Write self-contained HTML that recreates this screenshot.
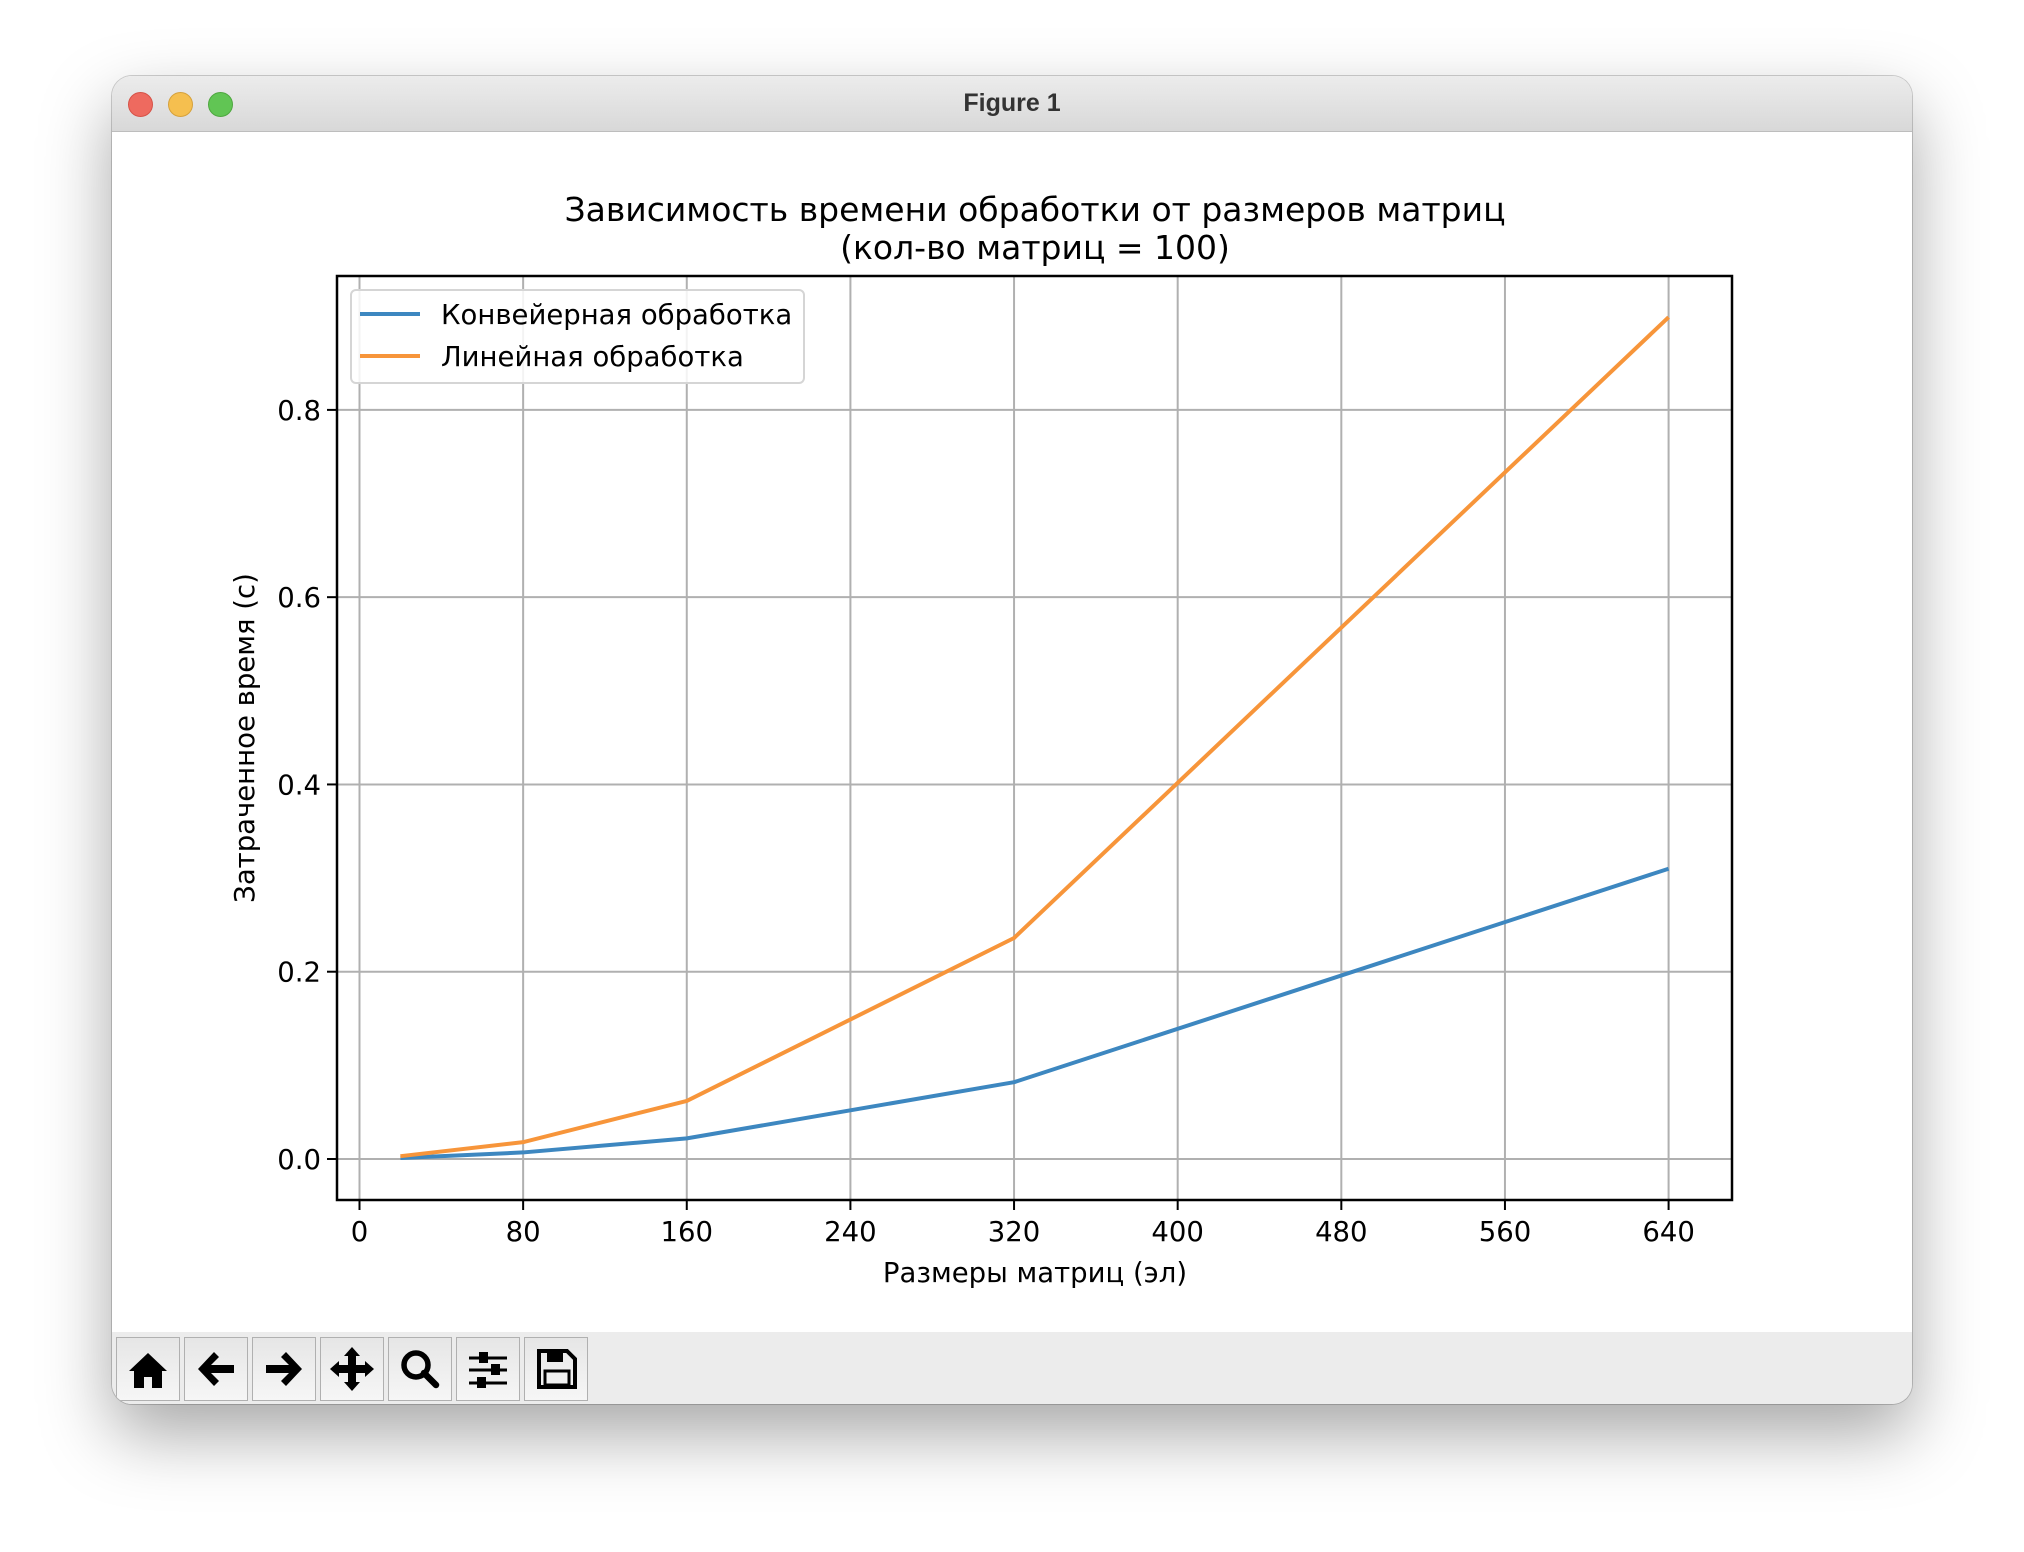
<!DOCTYPE html>
<html><head><meta charset="utf-8"><style>
html,body{margin:0;padding:0;background:#fff;width:2024px;height:1552px;overflow:hidden;}
#win{position:absolute;left:112px;top:76px;width:1800px;height:1328px;border-radius:20px;background:#fff;overflow:hidden;box-shadow:0 30px 70px rgba(0,0,0,0.35),0 0 0 1px rgba(0,0,0,0.18);}
#titlebar{position:absolute;left:0;top:0;width:100%;height:55px;background:linear-gradient(#ececec,#d8d8d8);border-bottom:1px solid #bdbdbd;}
.light{position:absolute;top:16px;width:23px;height:23px;border-radius:50%;}
#ttl{position:absolute;left:0;width:100%;top:13px;text-align:center;font:bold 25px "Liberation Sans",sans-serif;color:#333;}
#toolbar{position:absolute;left:0;top:1256px;width:100%;height:72px;background:#ececec;}
.btn{position:absolute;top:5px;width:62px;height:62px;border:1px solid #b0b0b0;background:linear-gradient(#e6e6e6,#f6f6f6);}
svg text{font-family:"DejaVu Sans","Liberation Sans",sans-serif;}
</style></head><body>
<div id="win">
 <div id="titlebar">
  <div class="light" style="left:16px;background:#ee6a5f;border:1px solid #d65247"></div>
  <div class="light" style="left:56px;background:#f5bf4f;border:1px solid #d6a13b"></div>
  <div class="light" style="left:96px;background:#61c554;border:1px solid #4ea73f"></div>
  <div id="ttl">Figure 1</div>
 </div>
 <div id="toolbar">
  <div class="btn" style="left:4px"><svg width="62" height="62"><path d="M12 33 L31 15 L50 33 L45 33 L45 50 L35 50 L35 39 L27 39 L27 50 L17 50 L17 33Z" fill="#000"/></svg></div>
  <div class="btn" style="left:72px"><svg width="62" height="62"><path d="M13 31 L29 14 L34 19 L26 27 L49 27 L49 35 L26 35 L34 43 L29 48Z" fill="#000"/></svg></div>
  <div class="btn" style="left:140px"><svg width="62" height="62"><path d="M49 31 L33 14 L28 19 L36 27 L13 27 L13 35 L36 35 L28 43 L33 48Z" fill="#000"/></svg></div>
  <div class="btn" style="left:208px"><svg width="62" height="62"><path d="M31 9 L39 18 L35 18 L35 27 L44 27 L44 23 L53 31 L44 39 L44 35 L35 35 L35 44 L39 44 L31 53 L23 44 L27 44 L27 35 L18 35 L18 39 L9 31 L18 23 L18 27 L27 27 L27 18 L23 18Z" fill="#000"/></svg></div>
  <div class="btn" style="left:276px"><svg width="62" height="62"><circle cx="27" cy="27" r="12" fill="none" stroke="#000" stroke-width="5.5"/><line x1="35" y1="35" x2="47" y2="47" stroke="#000" stroke-width="6.5" stroke-linecap="round"/></svg></div>
  <div class="btn" style="left:344px"><svg width="62" height="62"><g stroke="#000" stroke-width="3"><line x1="12" y1="20" x2="50" y2="20"/><line x1="12" y1="32" x2="50" y2="32"/><line x1="12" y1="45" x2="50" y2="45"/></g><rect x="22" y="14" width="9" height="11" fill="#000"/><rect x="34" y="26" width="9" height="11" fill="#000"/><rect x="20" y="39" width="9" height="11" fill="#000"/></svg></div>
  <div class="btn" style="left:412px"><svg width="62" height="62"><path d="M14 13 L42 13 L50 21 L50 49 L14 49Z" fill="none" stroke="#000" stroke-width="4"/><rect x="22" y="13" width="16" height="11" fill="#000"/><rect x="20" y="33" width="24" height="14" fill="none" stroke="#000" stroke-width="3"/></svg></div>
 </div>
</div>
<svg id="chart" width="2024" height="1552" style="position:absolute;left:0;top:0"></svg>
<script>
const sizes = [20, 80, 160, 320, 640];
const pipelineTimes = [0.001, 0.007, 0.022, 0.082, 0.31];
const linearTimes = [0.003, 0.018, 0.062, 0.236, 0.899];
const xTicks = [0, 80, 160, 240, 320, 400, 480, 560, 640];
const yTicks = [0.0, 0.2, 0.4, 0.6, 0.8];
const yTickLabels = ["0.0", "0.2", "0.4", "0.6", "0.8"];

const L=337,R=1732,T=276,B=1200;
const xMin=-11,xMax=671,yMin=-0.0438,yMax=0.943;
const sx=v=>L+(v-xMin)/(xMax-xMin)*(R-L);
const sy=v=>B-(v-yMin)/(yMax-yMin)*(B-T);
const svg=document.getElementById('chart');
const NS='http://www.w3.org/2000/svg';
function mk(tag,attrs,parent){const e=document.createElementNS(NS,tag);for(const k in attrs)e.setAttribute(k,attrs[k]);(parent||svg).appendChild(e);return e;}

xTicks.forEach(v=>{
 const g=mk('line',{x1:sx(v),x2:sx(v),y1:T,y2:B,stroke:'#b0b0b0','stroke-width':2});
 
 
 const t=mk('line',{x1:sx(v),x2:sx(v),y1:B,y2:B+10,stroke:'#000','stroke-width':2});
 
 
 const l=mk('text',{x:sx(v),y:B+41,'text-anchor':'middle','font-size':27.5,fill:'#000'});
 l.textContent=String(v);
 
 
});
yTicks.forEach((v,i)=>{
 const g=mk('line',{x1:L,x2:R,y1:sy(v),y2:sy(v),stroke:'#b0b0b0','stroke-width':2});
 
 
 const t=mk('line',{x1:L-10,x2:L,y1:sy(v),y2:sy(v),stroke:'#000','stroke-width':2});
 
 
 const l=mk('text',{x:L-16,y:sy(v)+10,'text-anchor':'end','font-size':27.5,fill:'#000'});
 l.textContent=yTickLabels[i];
 
 
});
function series(vals,color,name){
 const p=mk('polyline',{points:sizes.map((x,i)=>sx(x)+','+sy(vals[i])).join(' '),fill:'none',stroke:color,'stroke-width':4,'stroke-linejoin':'round'});
 
 
}
series(pipelineTimes,'#3d87c0','pipeline-line');
series(linearTimes,'#f7953a','linear-line');
const frame=mk('rect',{x:L,y:T,width:R-L,height:B-T,fill:'none',stroke:'#000','stroke-width':2.5});


</script>
<svg width="2024" height="1552" style="position:absolute;left:0;top:0;pointer-events:none">
 <text x="1035" y="221" text-anchor="middle" font-size="33" fill="#000">Зависимость времени обработки от размеров матриц</text>
 <text x="1035" y="259" text-anchor="middle" font-size="33" fill="#000">(кол-во матриц = 100)</text>
 <text x="1035" y="1282" text-anchor="middle" font-size="27.5" fill="#000">Размеры матриц (эл)</text>
 <text x="0" y="0" transform="translate(254,738) rotate(-90)" text-anchor="middle" font-size="27.5" fill="#000">Затраченное время (с)</text>
 <g>
  <rect x="351" y="290" width="453" height="93" rx="5" fill="#fff" fill-opacity="0.85" stroke="#d5d5d5" stroke-width="2"/>
  <g>
   <line x1="360" y1="314" x2="420" y2="314" stroke="#3d87c0" stroke-width="4"/>
   <text x="441" y="324" font-size="27.5" fill="#000">Конвейерная обработка</text>
  </g>
  <g>
   <line x1="360" y1="356" x2="420" y2="356" stroke="#f7953a" stroke-width="4"/>
   <text x="441" y="366" font-size="27.5" fill="#000">Линейная обработка</text>
  </g>
 </g>
</svg>
</body></html>
